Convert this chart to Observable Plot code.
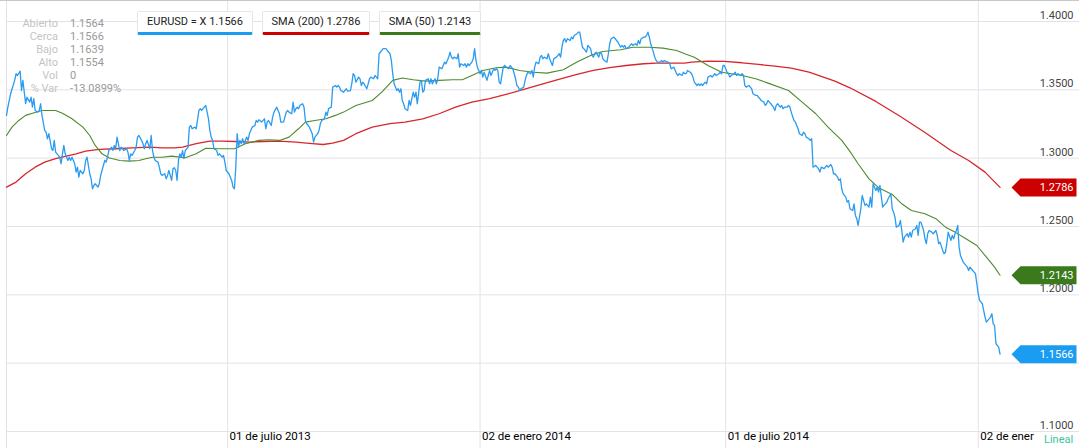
<!DOCTYPE html>
<html><head><meta charset="utf-8">
<script src="https://cdn.jsdelivr.net/npm/d3@7"></script>
<script src="https://cdn.jsdelivr.net/npm/@observablehq/plot@0.6"></script>
<style>
html,body{margin:0;padding:0;background:#fff;}
#wrap{position:relative;width:1079px;height:448px;overflow:hidden;font-family:Roboto,"Liberation Sans",Arial,sans-serif;}
#wrap svg{position:absolute;left:0;top:0;}
.topline{position:absolute;left:0;top:0;width:1079px;height:1px;background:#c8c8c8;}
.legend{position:absolute;top:11px;height:20px;line-height:20px;font-size:11px;color:#222;text-align:center;background:#fff;border:1px solid #e6e6e6;border-bottom-width:3px;border-bottom-style:solid;border-radius:2px;white-space:nowrap;}
.info{position:absolute;top:17px;font-size:11px;line-height:13px;white-space:nowrap;}
.info.l{left:0;width:58px;text-align:right;color:#c4c4c4;}
.info.v{left:70px;color:#9a9a9a;}
.lineal{position:absolute;left:1041px;top:432px;width:38px;height:16px;line-height:15px;background:#fff;color:#3cc3a0;font-size:11px;padding-left:3px;box-sizing:border-box;}
</style>
</head><body>
<div id="wrap"></div>
<script>
// ---- data ----
const yTicks = [1.10, 1.15, 1.20, 1.25, 1.30, 1.35, 1.40];
const xTickDates = ["2013-07-01", "2014-01-02", "2014-07-01", "2015-01-02"];
// the last label is cut off by the "Lineal" box in the reference
const xTickLabels = ["01 de julio 2013", "02 de enero 2014", "01 de julio 2014", "02 de ener"];
const xDomain = ["2013-01-20", "2015-01-22"];

const legendTexts = ["EURUSD = X 1.1566", "SMA (200) 1.2786", "SMA (50) 1.2143"];
const seriesColors = ["#2a9bf0", "#d8262b", "#4e8a30"];
const tagColors = ["#1a9cf2", "#cc0000", "#3a7a1c"];
const infoLabels = ["Abierto", "Cerca", "Bajo", "Alto", "Vol", "% Var"];
const infoValues = ["1.1564", "1.1566", "1.1639", "1.1554", "0", "-13.0899%"];

const eurusd = [
["2013-01-20",1.3313],["2013-01-21",1.3373],["2013-01-23",1.3471],["2013-01-26",1.3569],["2013-01-27",1.3618],["2013-01-28",1.3605],["2013-01-30",1.3637],["2013-01-31",1.3495],
["2013-02-01",1.3569],["2013-02-03",1.3400],["2013-02-04",1.3446],["2013-02-06",1.3410],["2013-02-07",1.3446],["2013-02-08",1.3373],["2013-02-09",1.3435],["2013-02-10",1.3349],["2013-02-12",1.3337],["2013-02-13",1.3349],["2013-02-14",1.3398],["2013-02-15",1.3313],["2013-02-17",1.3203],["2013-02-18",1.3190],["2013-02-19",1.3142],["2013-02-20",1.3179],["2013-02-22",1.3069],["2013-02-23",1.3056],["2013-02-24",1.3130],["2013-02-25",1.3044],["2013-02-26",1.3032],["2013-02-28",1.3007],
["2013-03-01",1.2959],["2013-03-02",1.3032],["2013-03-03",1.3093],["2013-03-04",1.3032],["2013-03-06",1.2983],["2013-03-07",1.3007],["2013-03-08",1.2983],["2013-03-09",1.3007],["2013-03-11",1.2959],["2013-03-12",1.2898],["2013-03-13",1.2934],["2013-03-14",1.2861],["2013-03-15",1.2910],["2013-03-17",1.2886],["2013-03-18",1.2910],["2013-03-19",1.2983],["2013-03-20",1.3007],["2013-03-22",1.2886],["2013-03-23",1.2849],["2013-03-24",1.2776],["2013-03-25",1.2800],["2013-03-26",1.2813],["2013-03-28",1.2788],["2013-03-29",1.2813],["2013-03-30",1.2874],["2013-03-31",1.2910],
["2013-04-02",1.2983],["2013-04-03",1.2971],["2013-04-04",1.3007],["2013-04-05",1.3056],["2013-04-07",1.3081],["2013-04-08",1.3056],["2013-04-09",1.3093],["2013-04-10",1.3069],["2013-04-11",1.3154],["2013-04-13",1.3056],["2013-04-14",1.3081],["2013-04-15",1.3069],["2013-04-16",1.3056],["2013-04-18",1.3069],["2013-04-19",1.3044],["2013-04-20",1.2983],["2013-04-21",1.3032],["2013-04-22",1.3020],["2013-04-24",1.3056],["2013-04-25",1.3081],["2013-04-26",1.3154],["2013-04-27",1.3166],["2013-04-29",1.3130],["2013-04-30",1.3106],
["2013-05-01",1.3069],["2013-05-02",1.3106],["2013-05-03",1.3130],["2013-05-05",1.3069],["2013-05-06",1.3166],["2013-05-07",1.3056],["2013-05-08",1.3007],["2013-05-09",1.2983],["2013-05-11",1.2971],["2013-05-12",1.2934],["2013-05-13",1.2886],["2013-05-14",1.2874],["2013-05-16",1.2886],["2013-05-17",1.2849],["2013-05-18",1.2874],["2013-05-19",1.2910],["2013-05-21",1.2837],["2013-05-22",1.2923],["2013-05-23",1.2930],["2013-05-24",1.2910],["2013-05-25",1.2837],["2013-05-26",1.2983],["2013-05-27",1.3032],["2013-05-28",1.3007],["2013-05-29",1.3056],["2013-05-30",1.2996],["2013-05-31",1.3056],
["2013-06-02",1.3081],["2013-06-03",1.3227],["2013-06-04",1.3239],["2013-06-05",1.3215],["2013-06-07",1.3227],["2013-06-08",1.3215],["2013-06-10",1.3349],["2013-06-11",1.3362],["2013-06-12",1.3349],["2013-06-13",1.3362],["2013-06-15",1.3386],["2013-06-16",1.3337],["2013-06-17",1.3288],["2013-06-18",1.3203],["2013-06-19",1.3154],["2013-06-20",1.3130],["2013-06-21",1.3069],["2013-06-23",1.3056],["2013-06-24",1.3020],["2013-06-25",1.3032],["2013-06-26",1.3020],["2013-06-27",1.3007],["2013-06-28",1.3020],["2013-06-29",1.2971],["2013-06-30",1.2910],
["2013-07-02",1.2886],["2013-07-03",1.2861],["2013-07-04",1.2837],["2013-07-05",1.2788],["2013-07-06",1.2776],["2013-07-07",1.2934],["2013-07-08",1.3179],["2013-07-09",1.3081],["2013-07-10",1.3130],["2013-07-11",1.3106],["2013-07-12",1.3142],["2013-07-13",1.3106],["2013-07-15",1.3154],["2013-07-16",1.3130],["2013-07-17",1.3179],["2013-07-18",1.3203],["2013-07-19",1.3227],["2013-07-21",1.3239],["2013-07-22",1.3276],["2013-07-23",1.3264],["2013-07-24",1.3281],["2013-07-26",1.3264],["2013-07-27",1.3276],["2013-07-28",1.3288],["2013-07-29",1.3215],["2013-07-30",1.3264],["2013-07-31",1.3276],
["2013-08-02",1.3239],["2013-08-03",1.3300],["2013-08-04",1.3337],["2013-08-06",1.3373],["2013-08-07",1.3349],["2013-08-08",1.3325],["2013-08-09",1.3264],["2013-08-11",1.3264],["2013-08-12",1.3300],["2013-08-13",1.3337],["2013-08-14",1.3349],["2013-08-15",1.3337],["2013-08-17",1.3325],["2013-08-18",1.3410],["2013-08-19",1.3337],["2013-08-20",1.3362],["2013-08-21",1.3373],["2013-08-22",1.3362],["2013-08-23",1.3386],["2013-08-25",1.3398],["2013-08-26",1.3373],["2013-08-27",1.3276],["2013-08-28",1.3252],["2013-08-30",1.3227],["2013-08-31",1.3203],
["2013-09-01",1.3179],["2013-09-02",1.3117],["2013-09-03",1.3154],["2013-09-05",1.3179],["2013-09-06",1.3203],["2013-09-07",1.3252],["2013-09-08",1.3276],["2013-09-10",1.3288],["2013-09-11",1.3337],["2013-09-12",1.3313],["2013-09-13",1.3362],["2013-09-15",1.3373],["2013-09-16",1.3520],["2013-09-18",1.3532],["2013-09-19",1.3520],["2013-09-20",1.3532],["2013-09-21",1.3520],["2013-09-22",1.3495],["2013-09-24",1.3483],["2013-09-26",1.3508],["2013-09-27",1.3490],["2013-09-29",1.3495],["2013-09-30",1.3544],
["2013-10-01",1.3618],["2013-10-02",1.3605],["2013-10-03",1.3556],["2013-10-05",1.3593],["2013-10-06",1.3581],["2013-10-07",1.3532],["2013-10-08",1.3556],["2013-10-09",1.3544],["2013-10-11",1.3508],["2013-10-12",1.3544],["2013-10-13",1.3581],["2013-10-14",1.3593],["2013-10-16",1.3581],["2013-10-17",1.3605],["2013-10-18",1.3593],["2013-10-19",1.3581],["2013-10-20",1.3764],["2013-10-22",1.3788],["2013-10-23",1.3801],["2013-10-24",1.3801],["2013-10-25",1.3801],["2013-10-26",1.3788],["2013-10-28",1.3764],["2013-10-29",1.3715],["2013-10-30",1.3618],["2013-10-31",1.3544],
["2013-11-02",1.3495],["2013-11-03",1.3508],["2013-11-04",1.3483],["2013-11-05",1.3508],["2013-11-06",1.3422],["2013-11-07",1.3398],["2013-11-08",1.3362],["2013-11-10",1.3349],["2013-11-11",1.3422],["2013-11-12",1.3386],["2013-11-14",1.3483],["2013-11-15",1.3446],["2013-11-16",1.3483],["2013-11-17",1.3398],["2013-11-19",1.3556],["2013-11-20",1.3569],["2013-11-21",1.3483],["2013-11-22",1.3495],["2013-11-23",1.3569],["2013-11-25",1.3581],["2013-11-26",1.3544],["2013-11-27",1.3581],["2013-11-28",1.3544],["2013-11-30",1.3581],
["2013-12-01",1.3544],["2013-12-02",1.3581],["2013-12-03",1.3666],["2013-12-05",1.3654],["2013-12-06",1.3678],["2013-12-07",1.3703],["2013-12-08",1.3691],["2013-12-10",1.3739],["2013-12-11",1.3776],["2013-12-12",1.3739],["2013-12-13",1.3727],["2013-12-14",1.3739],["2013-12-16",1.3727],["2013-12-17",1.3764],["2013-12-18",1.3666],["2013-12-19",1.3691],["2013-12-21",1.3678],["2013-12-22",1.3691],["2013-12-23",1.3666],["2013-12-24",1.3691],["2013-12-25",1.3678],["2013-12-27",1.3703],["2013-12-28",1.3727],["2013-12-29",1.3801],["2013-12-30",1.3715],["2013-12-31",1.3666],
["2014-01-02",1.3618],["2014-01-03",1.3642],["2014-01-04",1.3593],["2014-01-05",1.3629],["2014-01-07",1.3569],["2014-01-08",1.3605],["2014-01-09",1.3642],["2014-01-10",1.3605],["2014-01-12",1.3654],["2014-01-13",1.3642],["2014-01-14",1.3654],["2014-01-15",1.3642],["2014-01-16",1.3556],["2014-01-17",1.3544],["2014-01-19",1.3666],["2014-01-20",1.3678],["2014-01-21",1.3666],["2014-01-23",1.3654],["2014-01-24",1.3678],["2014-01-25",1.3666],["2014-01-26",1.3654],["2014-01-28",1.3581],["2014-01-29",1.3532],["2014-01-30",1.3520],["2014-01-31",1.3495],
["2014-02-01",1.3508],["2014-02-03",1.3520],["2014-02-04",1.3569],["2014-02-05",1.3605],["2014-02-06",1.3629],["2014-02-08",1.3618],["2014-02-09",1.3642],["2014-02-10",1.3593],["2014-02-11",1.3666],["2014-02-12",1.3703],["2014-02-14",1.3691],["2014-02-15",1.3739],["2014-02-16",1.3752],["2014-02-17",1.3727],["2014-02-18",1.3739],["2014-02-20",1.3727],["2014-02-21",1.3764],["2014-02-22",1.3727],["2014-02-24",1.3678],["2014-02-25",1.3727],["2014-02-27",1.3739],["2014-02-28",1.3752],
["2014-03-01",1.3764],["2014-03-02",1.3739],["2014-03-03",1.3812],["2014-03-04",1.3861],["2014-03-05",1.3874],["2014-03-06",1.3849],["2014-03-07",1.3874],["2014-03-09",1.3861],["2014-03-10",1.3886],["2014-03-11",1.3874],["2014-03-12",1.3898],["2014-03-14",1.3910],["2014-03-15",1.3922],["2014-03-16",1.3922],["2014-03-18",1.3812],["2014-03-19",1.3801],["2014-03-20",1.3788],["2014-03-21",1.3776],["2014-03-22",1.3825],["2014-03-24",1.3801],["2014-03-25",1.3752],["2014-03-26",1.3739],["2014-03-27",1.3764],["2014-03-28",1.3776],["2014-03-30",1.3739],["2014-03-31",1.3776],
["2014-04-01",1.3764],["2014-04-02",1.3727],["2014-04-03",1.3715],["2014-04-05",1.3703],["2014-04-06",1.3764],["2014-04-07",1.3837],["2014-04-08",1.3874],["2014-04-10",1.3886],["2014-04-11",1.3874],["2014-04-12",1.3861],["2014-04-13",1.3849],["2014-04-15",1.3812],["2014-04-16",1.3825],["2014-04-17",1.3812],["2014-04-18",1.3825],["2014-04-19",1.3801],["2014-04-21",1.3812],["2014-04-22",1.3825],["2014-04-23",1.3837],["2014-04-24",1.3825],["2014-04-26",1.3837],["2014-04-27",1.3825],["2014-04-28",1.3861],["2014-04-29",1.3837],["2014-04-30",1.3874],
["2014-05-02",1.3886],["2014-05-03",1.3886],["2014-05-04",1.3898],["2014-05-05",1.3922],["2014-05-06",1.3886],["2014-05-07",1.3837],["2014-05-09",1.3776],["2014-05-10",1.3739],["2014-05-11",1.3715],["2014-05-12",1.3703],["2014-05-14",1.3703],["2014-05-15",1.3715],["2014-05-16",1.3703],["2014-05-17",1.3715],["2014-05-19",1.3703],["2014-05-20",1.3703],["2014-05-21",1.3691],["2014-05-22",1.3654],["2014-05-24",1.3666],["2014-05-25",1.3642],["2014-05-26",1.3618],["2014-05-27",1.3605],["2014-05-28",1.3618],["2014-05-30",1.3605],["2014-05-31",1.3629],
["2014-06-01",1.3618],["2014-06-02",1.3618],["2014-06-03",1.3642],["2014-06-05",1.3629],["2014-06-06",1.3618],["2014-06-07",1.3593],["2014-06-08",1.3556],["2014-06-10",1.3532],["2014-06-11",1.3544],["2014-06-12",1.3532],["2014-06-13",1.3544],["2014-06-14",1.3532],["2014-06-16",1.3556],["2014-06-17",1.3544],["2014-06-18",1.3593],["2014-06-20",1.3605],["2014-06-21",1.3593],["2014-06-22",1.3605],["2014-06-23",1.3618],["2014-06-24",1.3605],["2014-06-26",1.3618],["2014-06-27",1.3629],["2014-06-28",1.3618],["2014-06-29",1.3678],["2014-06-30",1.3678],
["2014-07-02",1.3629],["2014-07-03",1.3618],["2014-07-04",1.3593],["2014-07-05",1.3605],["2014-07-07",1.3618],["2014-07-08",1.3629],["2014-07-09",1.3605],["2014-07-10",1.3618],["2014-07-12",1.3605],["2014-07-13",1.3618],["2014-07-14",1.3605],["2014-07-15",1.3532],["2014-07-16",1.3520],["2014-07-18",1.3532],["2014-07-19",1.3520],["2014-07-20",1.3508],["2014-07-21",1.3471],["2014-07-23",1.3459],["2014-07-24",1.3459],["2014-07-25",1.3446],["2014-07-26",1.3435],["2014-07-27",1.3422],["2014-07-29",1.3410],["2014-07-30",1.3386],["2014-07-31",1.3398],
["2014-08-01",1.3422],["2014-08-02",1.3410],["2014-08-03",1.3398],["2014-08-05",1.3373],["2014-08-06",1.3349],["2014-08-07",1.3386],["2014-08-08",1.3398],["2014-08-10",1.3373],["2014-08-11",1.3386],["2014-08-12",1.3362],["2014-08-13",1.3373],["2014-08-15",1.3373],["2014-08-16",1.3386],["2014-08-17",1.3373],["2014-08-18",1.3337],["2014-08-20",1.3276],["2014-08-21",1.3264],["2014-08-22",1.3239],["2014-08-23",1.3215],["2014-08-24",1.3179],["2014-08-26",1.3166],["2014-08-27",1.3190],["2014-08-28",1.3179],["2014-08-29",1.3154],["2014-08-31",1.3142],
["2014-09-01",1.3130],["2014-09-02",1.3142],["2014-09-03",1.2934],["2014-09-05",1.2947],["2014-09-06",1.2934],["2014-09-07",1.2923],["2014-09-08",1.2898],["2014-09-09",1.2934],["2014-09-11",1.2923],["2014-09-12",1.2934],["2014-09-13",1.2947],["2014-09-14",1.2934],["2014-09-16",1.2954],["2014-09-17",1.2934],["2014-09-18",1.2886],["2014-09-19",1.2886],["2014-09-21",1.2861],["2014-09-22",1.2837],["2014-09-23",1.2849],["2014-09-24",1.2776],["2014-09-25",1.2740],["2014-09-27",1.2715],["2014-09-28",1.2678],["2014-09-29",1.2691],["2014-09-30",1.2630],
["2014-10-02",1.2617],["2014-10-03",1.2666],["2014-10-04",1.2581],["2014-10-05",1.2557],["2014-10-06",1.2508],["2014-10-08",1.2630],["2014-10-09",1.2727],["2014-10-10",1.2691],["2014-10-11",1.2654],["2014-10-12",1.2666],["2014-10-14",1.2642],["2014-10-15",1.2715],["2014-10-16",1.2642],["2014-10-17",1.2813],["2014-10-18",1.2788],["2014-10-19",1.2764],["2014-10-20",1.2788],["2014-10-21",1.2751],["2014-10-22",1.2800],["2014-10-24",1.2642],["2014-10-25",1.2654],["2014-10-26",1.2666],["2014-10-27",1.2678],["2014-10-28",1.2703],["2014-10-30",1.2740],["2014-10-31",1.2630],
["2014-11-01",1.2605],["2014-11-02",1.2568],["2014-11-03",1.2495],["2014-11-05",1.2508],["2014-11-06",1.2544],["2014-11-07",1.2471],["2014-11-08",1.2386],["2014-11-09",1.2422],["2014-11-11",1.2447],["2014-11-12",1.2422],["2014-11-13",1.2459],["2014-11-14",1.2422],["2014-11-15",1.2471],["2014-11-17",1.2484],["2014-11-18",1.2508],["2014-11-19",1.2435],["2014-11-20",1.2532],["2014-11-21",1.2532],["2014-11-23",1.2471],["2014-11-24",1.2410],["2014-11-25",1.2374],["2014-11-26",1.2447],["2014-11-27",1.2471],["2014-11-29",1.2459],["2014-11-30",1.2447],
["2014-12-02",1.2471],["2014-12-03",1.2435],["2014-12-04",1.2374],["2014-12-05",1.2386],["2014-12-07",1.2325],["2014-12-08",1.2301],["2014-12-09",1.2312],["2014-12-10",1.2374],["2014-12-11",1.2459],["2014-12-13",1.2398],["2014-12-14",1.2435],["2014-12-15",1.2410],["2014-12-16",1.2447],["2014-12-17",1.2471],["2014-12-18",1.2508],["2014-12-19",1.2349],["2014-12-20",1.2288],["2014-12-21",1.2264],["2014-12-22",1.2239],["2014-12-24",1.2215],["2014-12-25",1.2203],["2014-12-26",1.2178],["2014-12-27",1.2203],["2014-12-29",1.2178],["2014-12-30",1.2166],["2014-12-31",1.2154],
["2015-01-01",1.2081],["2015-01-02",1.2008],["2015-01-03",1.1959],["2015-01-05",1.1935],["2015-01-06",1.1886],["2015-01-07",1.1837],["2015-01-08",1.1800],["2015-01-09",1.1813],["2015-01-11",1.1837],["2015-01-12",1.1862],["2015-01-13",1.1788],["2015-01-14",1.1776],["2015-01-15",1.1642],["2015-01-17",1.1617],["2015-01-18",1.1566]
];

const sma50 = [
["2013-01-20",1.3166],["2013-01-24",1.3227],["2013-01-29",1.3276],["2013-02-03",1.3313],["2013-02-08",1.3329],["2013-02-15",1.3349],["2013-02-25",1.3349],["2013-03-02",1.3329],["2013-03-09",1.3288],["2013-03-17",1.3227],["2013-03-22",1.3166],["2013-03-26",1.3093],["2013-03-31",1.3032],["2013-04-05",1.3003],["2013-04-13",1.2983],["2013-04-20",1.2978],["2013-04-27",1.2983],["2013-05-02",1.2996],["2013-05-07",1.3007],["2013-05-14",1.3007],["2013-05-21",1.3015],["2013-05-31",1.3003],["2013-06-08",1.3032],["2013-06-15",1.3073],["2013-06-25",1.3069],["2013-07-06",1.3069],["2013-07-14",1.3106],["2013-07-24",1.3130],["2013-07-31",1.3135],["2013-08-08",1.3130],["2013-08-15",1.3154],["2013-08-22",1.3215],["2013-08-27",1.3264],["2013-09-03",1.3276],["2013-09-11",1.3288],["2013-09-18",1.3313],["2013-09-24",1.3337],["2013-10-03",1.3386],["2013-10-15",1.3422],["2013-10-22",1.3483],["2013-10-30",1.3569],["2013-11-06",1.3586],["2013-11-14",1.3574],["2013-11-23",1.3564],["2013-12-03",1.3569],["2013-12-13",1.3574],["2013-12-20",1.3574],["2013-12-27",1.3605],["2014-01-04",1.3642],["2014-01-14",1.3662],["2014-01-21",1.3666],["2014-01-31",1.3642],["2014-02-10",1.3629],["2014-02-20",1.3622],["2014-03-04",1.3647],["2014-03-14",1.3703],["2014-03-24",1.3752],["2014-04-02",1.3781],["2014-04-15",1.3793],["2014-04-24",1.3812],["2014-05-06",1.3812],["2014-05-16",1.3805],["2014-05-26",1.3788],["2014-06-01",1.3764],["2014-06-08",1.3739],["2014-06-18",1.3678],["2014-06-28",1.3629],["2014-07-13",1.3605],["2014-07-23",1.3581],["2014-08-01",1.3549],["2014-08-16",1.3495],["2014-08-26",1.3410],["2014-09-05",1.3325],["2014-09-14",1.3227],["2014-09-24",1.3130],["2014-09-30",1.3050],["2014-10-06",1.2959],["2014-10-14",1.2849],["2014-10-21",1.2784],["2014-10-31",1.2735],["2014-11-07",1.2666],["2014-11-14",1.2617],["2014-11-24",1.2593],["2014-12-02",1.2557],["2014-12-09",1.2495],["2014-12-16",1.2459],["2014-12-24",1.2410],["2015-01-01",1.2361],["2015-01-08",1.2276],["2015-01-14",1.2203],["2015-01-18",1.2143]
];

const sma200 = [
["2013-01-20",1.2788],["2013-01-27",1.2825],["2013-02-03",1.2886],["2013-02-10",1.2934],["2013-02-17",1.2971],["2013-02-25",1.2996],["2013-03-04",1.3013],["2013-03-12",1.3032],["2013-03-19",1.3051],["2013-03-29",1.3064],["2013-04-10",1.3069],["2013-04-22",1.3076],["2013-05-05",1.3081],["2013-05-14",1.3076],["2013-05-23",1.3076],["2013-05-29",1.3081],["2013-06-08",1.3106],["2013-06-18",1.3125],["2013-06-27",1.3125],["2013-07-07",1.3122],["2013-07-17",1.3117],["2013-07-27",1.3122],["2013-08-08",1.3125],["2013-08-20",1.3117],["2013-09-01",1.3106],["2013-09-09",1.3100],["2013-09-16",1.3110],["2013-09-24",1.3130],["2013-10-03",1.3179],["2013-10-15",1.3227],["2013-10-28",1.3252],["2013-11-08",1.3264],["2013-11-21",1.3288],["2013-12-03",1.3325],["2013-12-15",1.3373],["2013-12-27",1.3410],["2014-01-09",1.3435],["2014-01-21",1.3466],["2014-02-05",1.3508],["2014-02-17",1.3544],["2014-03-02",1.3581],["2014-03-14",1.3613],["2014-03-26",1.3642],["2014-04-07",1.3662],["2014-04-19",1.3678],["2014-05-02",1.3691],["2014-05-11",1.3695],["2014-05-21",1.3695],["2014-06-01",1.3695],["2014-06-06",1.3703],["2014-06-18",1.3710],["2014-06-30",1.3708],["2014-07-13",1.3698],["2014-07-25",1.3686],["2014-08-06",1.3673],["2014-08-18",1.3659],["2014-08-31",1.3629],["2014-09-09",1.3598],["2014-09-19",1.3564],["2014-09-30",1.3515],["2014-10-19",1.3415],["2014-11-06",1.3305],["2014-11-24",1.3188],["2014-12-13",1.3056],["2014-12-26",1.2983],["2015-01-07",1.2898],["2015-01-18",1.2786]
];

// ---- build ----
const toPts = arr => arr.map(([d, v]) => ({date: new Date(d), value: v}));
const bluePts = toPts(eurusd), redPts = toPts(sma200), greenPts = toPts(sma50);
const xTicks = xTickDates.map((d, i) => ({date: new Date(d), label: xTickLabels[i]}));
const tags = [
  {value: bluePts[bluePts.length - 1].value, color: tagColors[0]},
  {value: redPts[redPts.length - 1].value, color: tagColors[1]},
  {value: greenPts[greenPts.length - 1].value, color: tagColors[2]}
];
// y labels hidden behind a price tag are not shown (as in the reference)
const yLabelTicks = yTicks.filter(t => !tags.some(g => Math.abs(g.value - t) < 0.009));
const tagShape = {draw(ctx) {
  ctx.moveTo(-32.5, 0); ctx.lineTo(-23.5, -9); ctx.lineTo(32.5, -9);
  ctx.lineTo(32.5, 9); ctx.lineTo(-23.5, 9); ctx.closePath();
}};
const gridColor = "#e2e2ea";
const fontStack = "Roboto, 'Liberation Sans', Arial, sans-serif";

const chart = Plot.plot({
  width: 1079, height: 448,
  marginLeft: 6, marginRight: 74, marginTop: 21, marginBottom: 17,
  x: {type: "utc", domain: xDomain.map(d => new Date(d)), axis: null},
  y: {domain: [yTicks[0], yTicks[yTicks.length - 1]], axis: null},
  style: {background: "transparent", fontFamily: fontStack, overflow: "visible"},
  marks: [
    Plot.ruleY(yTicks, {stroke: gridColor, insetRight: -74}),
    Plot.ruleX(xTicks, {x: "date", stroke: gridColor, insetTop: -21, insetBottom: -17}),
    Plot.ruleX([new Date(xDomain[0])], {stroke: gridColor, insetTop: -21, insetBottom: -17}),
    Plot.line(redPts, {x: "date", y: "value", stroke: seriesColors[1], strokeWidth: 1.3}),
    Plot.line(greenPts, {x: "date", y: "value", stroke: seriesColors[2], strokeWidth: 1.1}),
    Plot.line(bluePts, {x: "date", y: "value", stroke: seriesColors[0], strokeWidth: 1.3}),
    Plot.text(yLabelTicks, {y: d => d, text: d => d.toFixed(4), frameAnchor: "right", textAnchor: "end", dx: 68, dy: -6, fontSize: 11, fill: "#444"}),
    Plot.text(xTicks, {x: "date", text: "label", frameAnchor: "bottom", textAnchor: "start", dx: 2, dy: 8, fontSize: 11.5, fill: "#000"}),
    ...tags.map(t => Plot.dot([t], {y: "value", frameAnchor: "right", dx: 38.5, r: 9, symbol: tagShape, fill: t.color, stroke: "none"})),
    Plot.text(tags, {y: "value", text: d => d.value.toFixed(4), frameAnchor: "right", textAnchor: "end", dx: 68, fontSize: 11, fill: "white"})
  ]
});

const wrapEl = document.getElementById("wrap");
wrapEl.appendChild(chart);

const topLineEl = document.createElement("div"); topLineEl.className = "topline"; wrapEl.appendChild(topLineEl);

// legend boxes
const legendBoxes = [[137, 114], [262, 106], [379, 100]];
legendTexts.forEach((t, i) => {
  const b = document.createElement("div");
  b.className = "legend";
  b.style.left = legendBoxes[i][0] + "px";
  b.style.width = legendBoxes[i][1] + "px";
  b.style.borderBottomColor = tagColors[i];
  b.textContent = t;
  wrapEl.appendChild(b);
});

// info panel
const infoL = document.createElement("div"); infoL.className = "info l";
infoL.innerHTML = infoLabels.map(s => `<div>${s}</div>`).join("");
const infoV = document.createElement("div"); infoV.className = "info v";
infoV.innerHTML = infoValues.map(s => `<div>${s}</div>`).join("");
wrapEl.appendChild(infoL); wrapEl.appendChild(infoV);

const linealEl = document.createElement("div"); linealEl.className = "lineal"; linealEl.textContent = "Lineal";
wrapEl.appendChild(linealEl);
</script>
</body></html>
